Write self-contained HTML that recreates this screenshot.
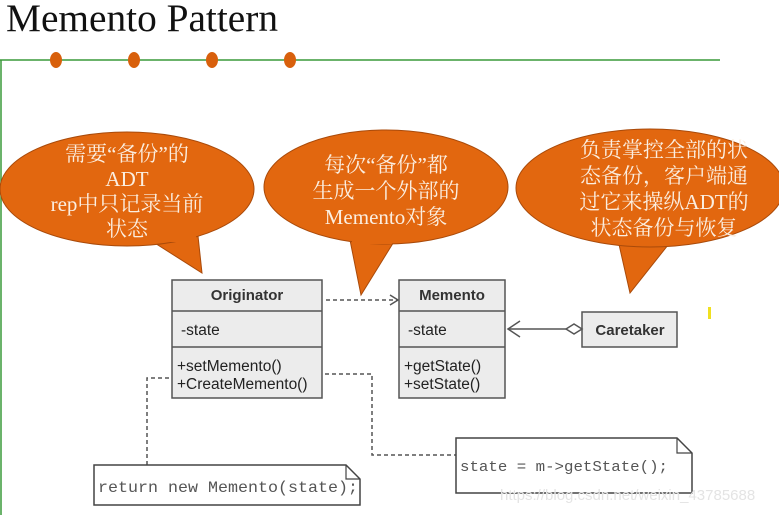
<!DOCTYPE html>
<html><head><meta charset="utf-8"><style>
html,body{margin:0;padding:0;background:#fff;width:779px;height:515px;overflow:hidden}
svg{display:block}
.cj{font-family:"Liberation Serif","Noto Serif CJK SC",serif;font-size:21px;fill:#fbeee0;text-anchor:middle}
.uh{font-family:"Liberation Sans",sans-serif;font-size:15px;font-weight:bold;fill:#333;text-anchor:middle}
.ut{font-family:"Liberation Sans",sans-serif;font-size:15.5px;fill:#222}
.mono{font-family:"Liberation Mono",monospace;fill:#555}
</style></head><body>
<svg width="779" height="515" viewBox="0 0 779 515" xmlns="http://www.w3.org/2000/svg">
<text x="6" y="31" font-family="Liberation Serif,serif" font-size="39" fill="#111" textLength="272" lengthAdjust="spacingAndGlyphs">Memento Pattern</text>
<line x1="0" y1="60" x2="720" y2="60" stroke="#3a9a3a" stroke-width="1.5"/>
<line x1="1" y1="60" x2="1" y2="515" stroke="#3a9a3a" stroke-width="1.5"/>
<g fill="#d8600c"><ellipse cx="56" cy="60" rx="6" ry="8"/><ellipse cx="134" cy="60" rx="6" ry="8"/><ellipse cx="212" cy="60" rx="6" ry="8"/><ellipse cx="290" cy="60" rx="6" ry="8"/></g>

<g fill="#e2670f" stroke="#a94a0a" stroke-width="1">
<path d="M150,240 L202,273 L198,236 Z"/>
<ellipse cx="127" cy="189" rx="127" ry="57"/>
<path d="M350,240 L361,295 L395,240 Z"/>
<ellipse cx="386" cy="187" rx="122" ry="57"/>
<path d="M618,240 L630,293 L672,240 Z"/>
<ellipse cx="650" cy="188" rx="134" ry="59"/>
</g>
<g fill="#e2670f"><rect x="152" y="232" width="44" height="10"/><rect x="352" y="232" width="40" height="12"/><rect x="620" y="232" width="50" height="12"/></g>
<text class="cj"><tspan x="127" y="161">需要“备份”的</tspan><tspan x="127" y="186">ADT</tspan><tspan x="127" y="211">rep中只记录当前</tspan><tspan x="127" y="236">状态</tspan></text>
<text class="cj"><tspan x="386" y="172">每次“备份”都</tspan><tspan x="386" y="198">生成一个外部的</tspan><tspan x="386" y="224">Memento对象</tspan></text>
<text class="cj"><tspan x="664" y="157">负责掌控全部的状</tspan><tspan x="664" y="183">态备份，客户端通</tspan><tspan x="664" y="209">过它来操纵ADT的</tspan><tspan x="664" y="235">状态备份与恢复</tspan></text>

<g stroke="#555" stroke-width="1.5" fill="#ececec">
<rect x="172" y="280" width="150" height="118"/>
<line x1="172" y1="311" x2="322" y2="311"/><line x1="172" y1="347" x2="322" y2="347"/>
<rect x="399" y="280" width="106" height="118"/>
<line x1="399" y1="311" x2="505" y2="311"/><line x1="399" y1="347" x2="505" y2="347"/>
<rect x="582" y="312" width="95" height="35"/>
</g>
<text class="uh" x="247" y="300">Originator</text>
<text class="ut" x="181" y="335">-state</text>
<text class="ut" x="177" y="371">+setMemento()</text>
<text class="ut" x="177" y="389">+CreateMemento()</text>
<text class="uh" x="452" y="300">Memento</text>
<text class="ut" x="408" y="335">-state</text>
<text class="ut" x="404" y="371">+getState()</text>
<text class="ut" x="404" y="389">+setState()</text>
<text class="uh" x="630" y="335">Caretaker</text>

<g stroke="#555" stroke-width="1.5" fill="none">
<line x1="326" y1="300" x2="397" y2="300" stroke-dasharray="4,3"/>
<polyline points="390,295 398,300 390,305"/>
<line x1="508" y1="329" x2="566" y2="329"/>
<polyline points="520,321 508,329 520,337"/>
<path d="M147,465 V378 H170" stroke-dasharray="4,3"/>
<path d="M325,374 H372 V455 H456" stroke-dasharray="4,3"/>
</g>
<path d="M566,329 L574,324 L582,329 L574,334 Z" fill="#fff" stroke="#555" stroke-width="1.5"/>

<g stroke="#444" stroke-width="1.5" fill="#fff">
<path d="M94,465 H346 L360,479 V505 H94 Z"/>
<path d="M456,438 H677 L692,453 V493 H456 Z"/>
</g>
<g stroke="#444" stroke-width="1.2" fill="none">
<polyline points="346,465 346,479 360,479"/>
<polyline points="677,438 677,453 692,453"/>
</g>
<text class="mono" x="98" y="492" font-size="16" textLength="260" lengthAdjust="spacingAndGlyphs">return new Memento(state);</text>
<text class="mono" x="460" y="471" font-size="15" textLength="208" lengthAdjust="spacingAndGlyphs">state = m-&gt;getState();</text>
<text x="500" y="500" font-family="Liberation Sans,sans-serif" font-size="15" fill="#e4e4e4">https://blog.csdn.net/weixin_43785688</text>
<rect x="708" y="307" width="3" height="12" fill="#f0e020"/>
</svg>
</body></html>
